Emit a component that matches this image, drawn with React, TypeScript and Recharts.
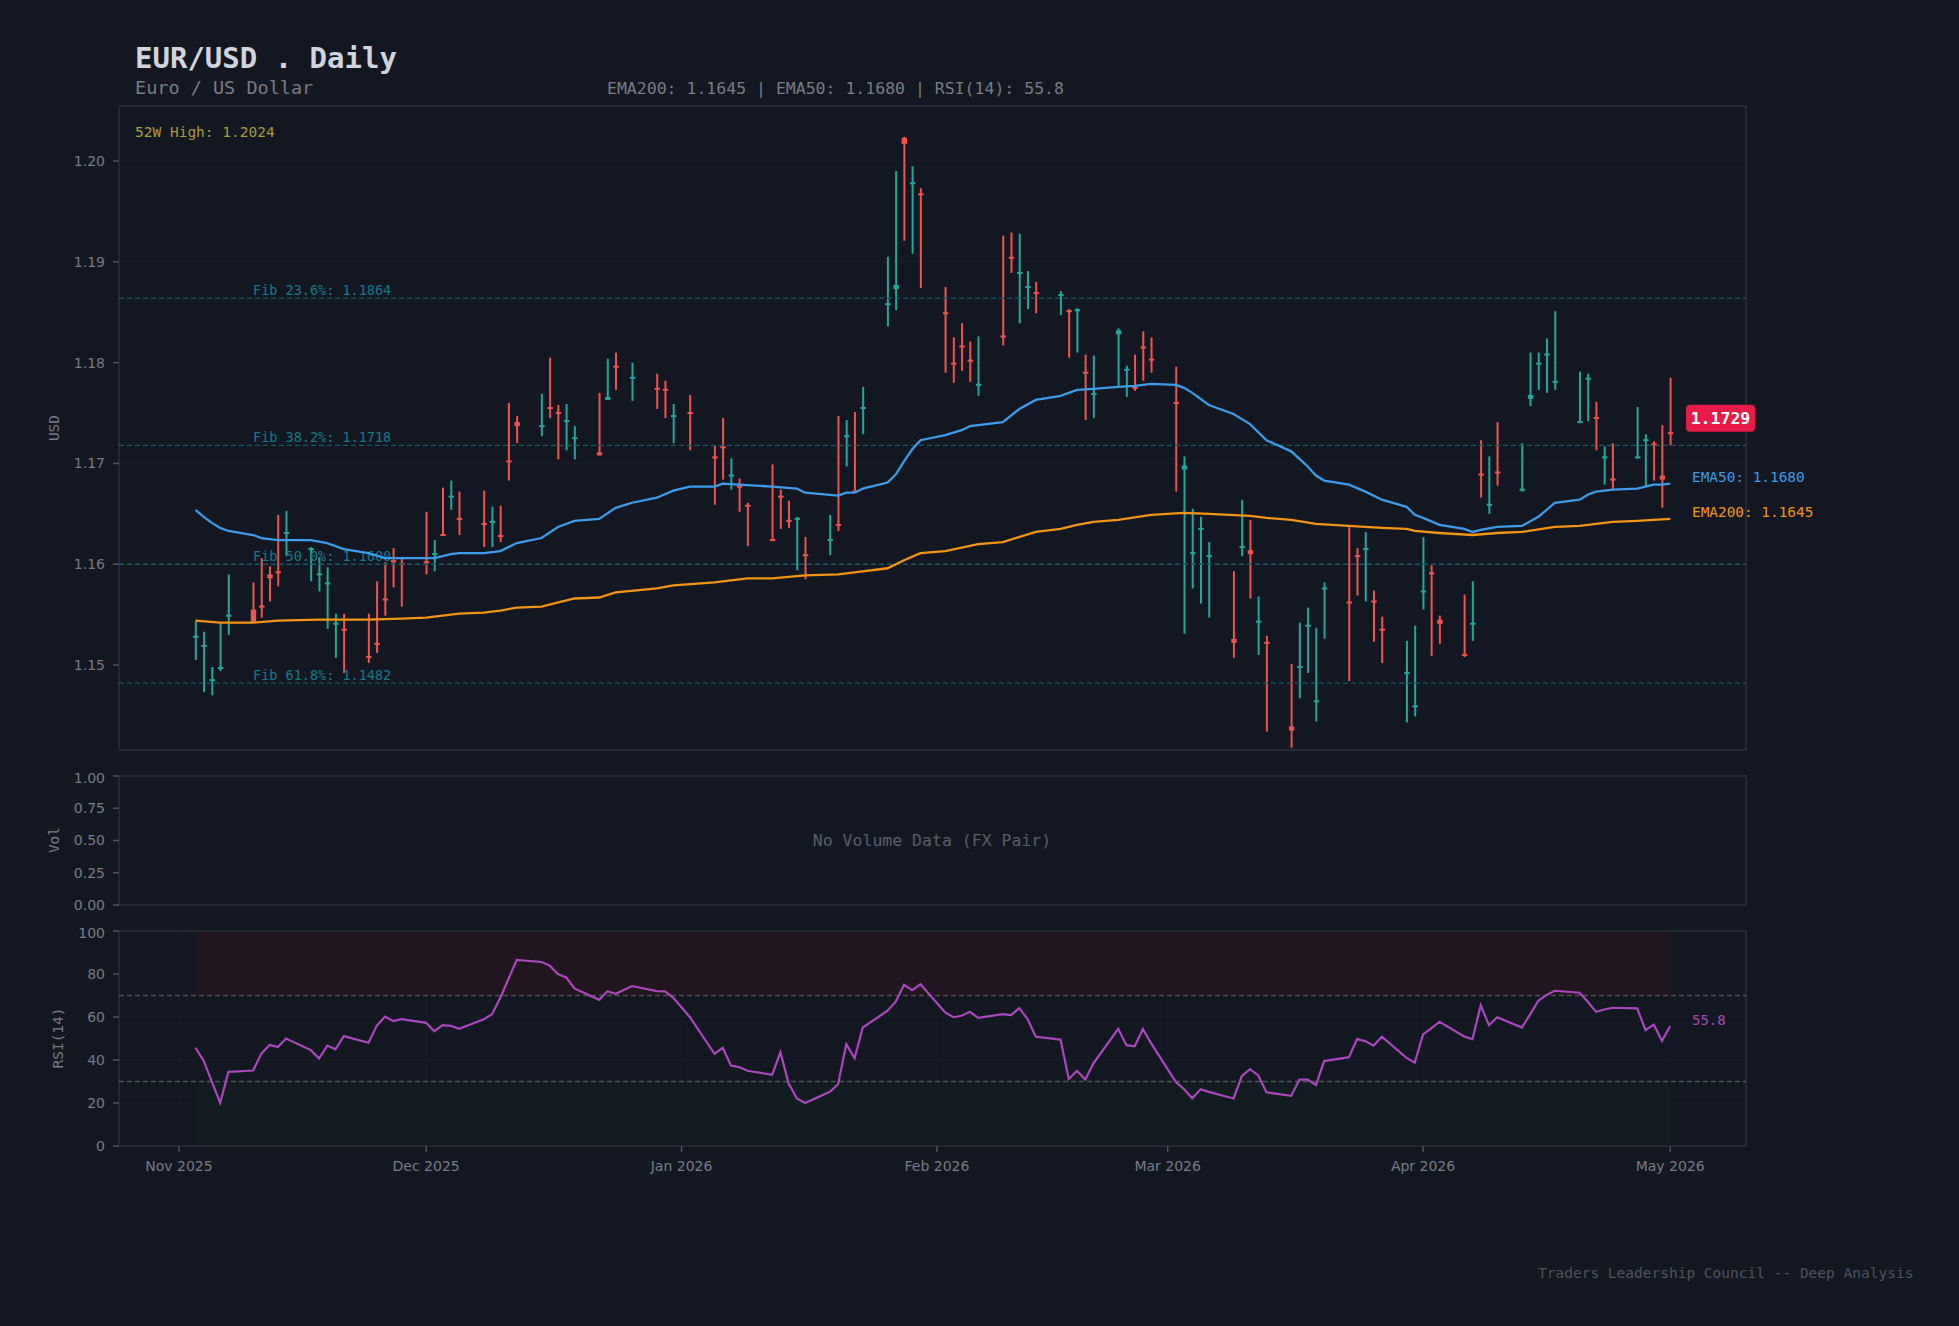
import React from 'react';
import {
  ComposedChart,
  Bar,
  Line,
  XAxis,
  YAxis,
  CartesianGrid,
  ReferenceLine,
  ReferenceArea,
} from 'recharts';

// ---------------- DATA ----------------
const candleDates = [
  '2025-11-03', '2025-11-04', '2025-11-05', '2025-11-06', '2025-11-07',
  '2025-11-10', '2025-11-11', '2025-11-12', '2025-11-13', '2025-11-14',
  '2025-11-17', '2025-11-18', '2025-11-19', '2025-11-20', '2025-11-21',
  '2025-11-24', '2025-11-25', '2025-11-26', '2025-11-27', '2025-11-28',
  '2025-12-01', '2025-12-02', '2025-12-03', '2025-12-04', '2025-12-05',
  '2025-12-08', '2025-12-09', '2025-12-10', '2025-12-11', '2025-12-12',
  '2025-12-15', '2025-12-16', '2025-12-17', '2025-12-18', '2025-12-19',
  '2025-12-22', '2025-12-23', '2025-12-24', '2025-12-26',
  '2025-12-29', '2025-12-30', '2025-12-31', '2026-01-02',
  '2026-01-05', '2026-01-06', '2026-01-07', '2026-01-08', '2026-01-09',
  '2026-01-12', '2026-01-13', '2026-01-14', '2026-01-15', '2026-01-16',
  '2026-01-19', '2026-01-20', '2026-01-21', '2026-01-22', '2026-01-23',
  '2026-01-26', '2026-01-27', '2026-01-28', '2026-01-29', '2026-01-30',
  '2026-02-02', '2026-02-03', '2026-02-04', '2026-02-05', '2026-02-06',
  '2026-02-09', '2026-02-10', '2026-02-11', '2026-02-12', '2026-02-13',
  '2026-02-16', '2026-02-17', '2026-02-18', '2026-02-19', '2026-02-20',
  '2026-02-23', '2026-02-24', '2026-02-25', '2026-02-26', '2026-02-27',
  '2026-03-02', '2026-03-03', '2026-03-04', '2026-03-05', '2026-03-06',
  '2026-03-09', '2026-03-10', '2026-03-11', '2026-03-12', '2026-03-13',
  '2026-03-16', '2026-03-17', '2026-03-18', '2026-03-19', '2026-03-20',
  '2026-03-23', '2026-03-24', '2026-03-25', '2026-03-26', '2026-03-27',
  '2026-03-30', '2026-03-31', '2026-04-01', '2026-04-02', '2026-04-03',
  '2026-04-06', '2026-04-07', '2026-04-08', '2026-04-09', '2026-04-10',
  '2026-04-13', '2026-04-14', '2026-04-15', '2026-04-16', '2026-04-17',
  '2026-04-20', '2026-04-21', '2026-04-22', '2026-04-23', '2026-04-24',
  '2026-04-27', '2026-04-28', '2026-04-29', '2026-04-30', '2026-05-01',
];

const openP = [
  1.1527, 1.1518, 1.1484, 1.1496, 1.1548, 1.1555, 1.1559, 1.1590, 1.1593, 1.1630,
  1.1614, 1.1589, 1.1580, 1.1540, 1.1536, 1.1509, 1.1522, 1.1566, 1.1604, 1.1601,
  1.1603, 1.1609, 1.1630, 1.1666, 1.1646, 1.1641, 1.1641, 1.1629, 1.1703, 1.1741,
  1.1736, 1.1756, 1.1751, 1.1741, 1.1724, 1.1711, 1.1763, 1.1797, 1.1784, 1.1775,
  1.1774, 1.1746, 1.1751, 1.1707, 1.1717, 1.1687, 1.1678, 1.1659, 1.1625, 1.1668,
  1.1644, 1.1644, 1.1610, 1.1623, 1.1640, 1.1726, 1.1673, 1.1754, 1.1857, 1.1873,
  1.2023, 1.1977, 1.1968, 1.1850, 1.1800, 1.1817, 1.1803, 1.1777, 1.1827, 1.1905,
  1.1888, 1.1874, 1.1870, 1.1866, 1.1852, 1.1851, 1.1791, 1.1768, 1.1828, 1.1792,
  1.1776, 1.1816, 1.1804, 1.1761, 1.1694, 1.1610, 1.1634, 1.1607, 1.1526, 1.1616,
  1.1614, 1.1542, 1.1523, 1.1439, 1.1497, 1.1538, 1.1463, 1.1575, 1.1563, 1.1609,
  1.1614, 1.1564, 1.1536, 1.1491, 1.1458, 1.1572, 1.1592, 1.1545, 1.1511, 1.1540,
  1.1690, 1.1658, 1.1692, 1.1673, 1.1764, 1.1798, 1.1807, 1.1780, 1.1740, 1.1783,
  1.1746, 1.1705, 1.1685, 1.1705, 1.1722, 1.1720, 1.1688, 1.1731,
];

const highP = [
  1.1543, 1.1533, 1.1498, 1.1542, 1.1590, 1.1582, 1.1606, 1.1598, 1.1649, 1.1653,
  1.1617, 1.1607, 1.1597, 1.1551, 1.1551, 1.1551, 1.1583, 1.1602, 1.1616, 1.1607,
  1.1652, 1.1624, 1.1676, 1.1683, 1.1672, 1.1673, 1.1657, 1.1658, 1.1760, 1.1747,
  1.1769, 1.1805, 1.1758, 1.1759, 1.1737, 1.1770, 1.1804, 1.1810, 1.1800, 1.1789,
  1.1782, 1.1759, 1.1768, 1.1718, 1.1745, 1.1705, 1.1685, 1.1661, 1.1699, 1.1674,
  1.1663, 1.1647, 1.1627, 1.1649, 1.1747, 1.1743, 1.1751, 1.1776, 1.1905, 1.1990,
  1.2024, 1.1995, 1.1973, 1.1875, 1.1825, 1.1839, 1.1821, 1.1826, 1.1926, 1.1929,
  1.1928, 1.1891, 1.1880, 1.1871, 1.1853, 1.1854, 1.1808, 1.1807, 1.1834, 1.1797,
  1.1808, 1.1831, 1.1825, 1.1796, 1.1707, 1.1655, 1.1647, 1.1622, 1.1593, 1.1664,
  1.1644, 1.1568, 1.1529, 1.1501, 1.1542, 1.1557, 1.1537, 1.1582, 1.1638, 1.1616,
  1.1632, 1.1574, 1.1548, 1.1524, 1.1539, 1.1627, 1.1599, 1.1549, 1.1570, 1.1583,
  1.1723, 1.1707, 1.1741, 1.1720, 1.1810, 1.1810, 1.1824, 1.1851, 1.1791, 1.1789,
  1.1761, 1.1717, 1.1720, 1.1756, 1.1729, 1.1722, 1.1738, 1.1785,
];

const lowP = [
  1.1505, 1.1473, 1.1470, 1.1494, 1.1530, 1.1543, 1.1547, 1.1563, 1.1578, 1.1608,
  1.1583, 1.1573, 1.1536, 1.1507, 1.1492, 1.1502, 1.1512, 1.1549, 1.1577, 1.1558,
  1.1590, 1.1593, 1.1628, 1.1654, 1.1629, 1.1617, 1.1617, 1.1622, 1.1683, 1.1720,
  1.1727, 1.1745, 1.1704, 1.1713, 1.1704, 1.1708, 1.1763, 1.1773, 1.1762, 1.1754,
  1.1745, 1.1720, 1.1713, 1.1659, 1.1684, 1.1674, 1.1652, 1.1618, 1.1623, 1.1635,
  1.1636, 1.1594, 1.1585, 1.1609, 1.1633, 1.1697, 1.1671, 1.1729, 1.1836, 1.1852,
  1.1921, 1.1908, 1.1874, 1.1790, 1.1780, 1.1792, 1.1781, 1.1767, 1.1817, 1.1889,
  1.1839, 1.1853, 1.1849, 1.1847, 1.1805, 1.1810, 1.1743, 1.1745, 1.1775, 1.1766,
  1.1772, 1.1782, 1.1790, 1.1672, 1.1531, 1.1576, 1.1561, 1.1547, 1.1507, 1.1608,
  1.1566, 1.1510, 1.1434, 1.1418, 1.1467, 1.1492, 1.1444, 1.1526, 1.1484, 1.1569,
  1.1563, 1.1523, 1.1502, 1.1443, 1.1449, 1.1555, 1.1509, 1.1521, 1.1508, 1.1524,
  1.1666, 1.1650, 1.1678, 1.1672, 1.1757, 1.1773, 1.1770, 1.1773, 1.1740, 1.1742,
  1.1713, 1.1679, 1.1674, 1.1705, 1.1677, 1.1683, 1.1656, 1.1718,
];

const closeP = [
  1.1529, 1.1520, 1.1486, 1.1498, 1.1550, 1.1543, 1.1557, 1.1586, 1.1591, 1.1632,
  1.1616, 1.1591, 1.1582, 1.1542, 1.1534, 1.1507, 1.1520, 1.1564, 1.1602, 1.1599,
  1.1601, 1.1611, 1.1628, 1.1668, 1.1644, 1.1639, 1.1643, 1.1627, 1.1701, 1.1737,
  1.1738, 1.1754, 1.1749, 1.1743, 1.1726, 1.1708, 1.1766, 1.1795, 1.1786, 1.1773,
  1.1772, 1.1748, 1.1749, 1.1705, 1.1715, 1.1689, 1.1676, 1.1657, 1.1623, 1.1666,
  1.1642, 1.1646, 1.1608, 1.1625, 1.1638, 1.1728, 1.1671, 1.1756, 1.1859, 1.1877,
  1.2017, 1.1979, 1.1966, 1.1848, 1.1798, 1.1815, 1.1801, 1.1779, 1.1825, 1.1903,
  1.1890, 1.1876, 1.1868, 1.1868, 1.1850, 1.1853, 1.1789, 1.1770, 1.1832, 1.1794,
  1.1774, 1.1814, 1.1802, 1.1759, 1.1698, 1.1612, 1.1636, 1.1609, 1.1522, 1.1618,
  1.1610, 1.1544, 1.1521, 1.1435, 1.1499, 1.1540, 1.1465, 1.1577, 1.1561, 1.1607,
  1.1616, 1.1562, 1.1534, 1.1493, 1.1460, 1.1574, 1.1590, 1.1541, 1.1509, 1.1542,
  1.1688, 1.1660, 1.1690, 1.1675, 1.1768, 1.1800, 1.1809, 1.1782, 1.1742, 1.1785,
  1.1744, 1.1707, 1.1683, 1.1707, 1.1724, 1.1718, 1.1684, 1.1729,
];

const rsiValues = [
  45.7, 39.6, 29.8, 20.0, 34.5, 35.1, 43.0, 47.0, 46.0, 50.0,
  44.6, 40.7, 46.7, 45.0, 51.1, 48.0, 55.9, 60.2, 58.1, 59.0,
  57.3, 53.4, 56.2, 55.9, 54.5, 58.9, 61.3, 68.9, 77.8, 86.6,
  85.6, 83.9, 80.0, 78.4, 73.3, 68.0, 72.0, 70.8, 74.4, 72.0,
  71.9, 68.9, 60.0, 42.9, 45.7, 37.4, 36.7, 35.0, 33.1, 43.6,
  29.0, 22.1, 20.0, 25.2, 28.7, 47.4, 40.8, 55.1, 62.9, 67.1,
  75.0, 72.5, 75.2, 62.1, 59.9, 60.6, 62.4, 59.6, 61.3, 60.9,
  64.1, 59.0, 50.8, 49.5, 31.1, 35.0, 30.9, 38.4, 54.5, 46.9,
  46.4, 54.4, 47.7, 29.8, 26.4, 22.2, 26.4, 25.2, 22.1, 32.5,
  35.7, 32.8, 25.0, 23.3, 30.9, 30.9, 28.3, 39.5, 41.3, 49.7,
  48.8, 46.7, 50.8, 41.0, 38.8, 51.9, 54.7, 57.8, 50.9, 49.7,
  65.4, 56.2, 59.9, 55.1, 61.2, 67.6, 70.3, 72.2, 71.3, 67.1,
  62.4, 63.5, 64.3, 64.0, 53.9, 56.5, 48.9, 55.8,
];

const ema50Dates = [
  '2025-11-03', '2025-11-04', '2025-11-05', '2025-11-06', '2025-11-07', '2025-11-10',
  '2025-11-11', '2025-11-13', '2025-11-17', '2025-11-19', '2025-11-21', '2025-11-24',
  '2025-11-26', '2025-11-28', '2025-12-02', '2025-12-04', '2025-12-05', '2025-12-08',
  '2025-12-10', '2025-12-12', '2025-12-15', '2025-12-17', '2025-12-19', '2025-12-22',
  '2025-12-24', '2025-12-26', '2025-12-29', '2025-12-31', '2026-01-02', '2026-01-05',
  '2026-01-06', '2026-01-08', '2026-01-12', '2026-01-15', '2026-01-16', '2026-01-20',
  '2026-01-21', '2026-01-22', '2026-01-23', '2026-01-26', '2026-01-27', '2026-01-28',
  '2026-01-29', '2026-01-30', '2026-02-02', '2026-02-04', '2026-02-05', '2026-02-09',
  '2026-02-11', '2026-02-13', '2026-02-16', '2026-02-18', '2026-02-20', '2026-02-23',
  '2026-02-25', '2026-02-27', '2026-03-02', '2026-03-03', '2026-03-04', '2026-03-06',
  '2026-03-09', '2026-03-11', '2026-03-13', '2026-03-16', '2026-03-18', '2026-03-19',
  '2026-03-20', '2026-03-23', '2026-03-25', '2026-03-27', '2026-03-30', '2026-03-31',
  '2026-04-01', '2026-04-03', '2026-04-06', '2026-04-07', '2026-04-08', '2026-04-10',
  '2026-04-13', '2026-04-15', '2026-04-17', '2026-04-20', '2026-04-21', '2026-04-22',
  '2026-04-24', '2026-04-27', '2026-04-28', '2026-04-29', '2026-04-30', '2026-05-01',
];
const ema50Values = [
  1.1654, 1.1647, 1.1641, 1.1636, 1.1633, 1.1629,
  1.1626, 1.1624, 1.1624, 1.1621, 1.1615, 1.1611,
  1.1606, 1.1606, 1.1606, 1.1610, 1.1611, 1.1611,
  1.1613, 1.1621, 1.1626, 1.1637, 1.1643, 1.1645,
  1.1656, 1.1661, 1.1666, 1.1673, 1.1677, 1.1677,
  1.1680, 1.1679, 1.1677, 1.1675, 1.1671, 1.1668,
  1.1671, 1.1671, 1.1675, 1.1681, 1.1689, 1.1702,
  1.1714, 1.1723, 1.1728, 1.1733, 1.1737, 1.1741,
  1.1754, 1.1763, 1.1767, 1.1773, 1.1774, 1.1776,
  1.1777, 1.1779, 1.1778, 1.1775, 1.1770, 1.1758,
  1.1749, 1.1739, 1.1723, 1.1712, 1.1697, 1.1688,
  1.1683, 1.1679, 1.1672, 1.1664, 1.1657, 1.1649,
  1.1646, 1.1639, 1.1635, 1.1632, 1.1634, 1.1637,
  1.1638, 1.1647, 1.1661, 1.1664, 1.1669, 1.1672,
  1.1674, 1.1675, 1.1677, 1.1679, 1.1679, 1.1680,
];

const ema200Dates = [
  '2025-11-03', '2025-11-06', '2025-11-10', '2025-11-13', '2025-11-18', '2025-11-24',
  '2025-11-28', '2025-12-01', '2025-12-03', '2025-12-05', '2025-12-08', '2025-12-10',
  '2025-12-12', '2025-12-15', '2025-12-19', '2025-12-22', '2025-12-24', '2025-12-29',
  '2025-12-31', '2026-01-05', '2026-01-09', '2026-01-12', '2026-01-16', '2026-01-20',
  '2026-01-22', '2026-01-26', '2026-01-28', '2026-01-30', '2026-02-02', '2026-02-06',
  '2026-02-09', '2026-02-13', '2026-02-16', '2026-02-18', '2026-02-20', '2026-02-23',
  '2026-02-27', '2026-03-03', '2026-03-06', '2026-03-11', '2026-03-13', '2026-03-16',
  '2026-03-19', '2026-03-23', '2026-03-27', '2026-03-30', '2026-03-31', '2026-04-03',
  '2026-04-07', '2026-04-10', '2026-04-13', '2026-04-17', '2026-04-20', '2026-04-24',
  '2026-04-27', '2026-05-01',
];
const ema200Values = [
  1.1544, 1.1542, 1.1542, 1.1544, 1.1545, 1.1545,
  1.1546, 1.1547, 1.1549, 1.1551, 1.1552, 1.1554,
  1.1557, 1.1558, 1.1566, 1.1567, 1.1572, 1.1576,
  1.1579, 1.1582, 1.1586, 1.1586, 1.1589, 1.1590,
  1.1592, 1.1596, 1.1604, 1.1611, 1.1613, 1.1620,
  1.1622, 1.1632, 1.1635, 1.1639, 1.1642, 1.1644,
  1.1649, 1.1651, 1.1650, 1.1648, 1.1646, 1.1644,
  1.1640, 1.1638, 1.1636, 1.1635, 1.1633, 1.1631,
  1.1629, 1.1631, 1.1632, 1.1637, 1.1638, 1.1642,
  1.1643, 1.1645,
];

const fibLevels = [1.1864, 1.1718, 1.16, 1.1482];
const fibNames = ['23.6%', '38.2%', '50.0%', '61.8%'];
const yearHigh = 1.2024;

const tickDates = ['2025-11-01', '2025-12-01', '2026-01-01', '2026-02-01', '2026-03-01', '2026-04-01', '2026-05-01'];
const tickLabels = ['Nov 2025', 'Dec 2025', 'Jan 2026', 'Feb 2026', 'Mar 2026', 'Apr 2026', 'May 2026'];
const priceTicks = [1.15, 1.16, 1.17, 1.18, 1.19, 1.2];
const volTicks = [0, 0.25, 0.5, 0.75, 1];
const rsiTicks = [0, 20, 40, 60, 80, 100];

// ---------------- STYLE ----------------
const BG = '#131722';
const BORDER = '#2a2e39';
const TEXT = '#787b86';
const TICK = '#50545f';
const GRID = '#181c27';
const UP = '#26a69a';
const DOWN = '#ef5350';
const BLUE = '#3d9be9';
const ORANGE = '#f39412';
const PURPLE = '#ab47bc';
const FIB = '#0e5c6c';
const FIB_TEXT = '#13798b';
const BADGE = '#e81a47';
const MONO = '"DejaVu Sans Mono", monospace';
const SANS = '"DejaVu Sans", sans-serif';

const EPOCH = Date.parse('2025-11-01T00:00:00Z');
const toDay = (s: string) => (Date.parse(s + 'T00:00:00Z') - EPOCH) / 86400000;

const X_DOMAIN: [number, number] = [-7.28, 190.2];
const Y_DOMAIN: [number, number] = [1.14157, 1.20546];

const tickDays = tickDates.map(toDay);
const tickText = (v: number) => {
  const i = tickDays.indexOf(v);
  return i >= 0 ? tickLabels[i] : '';
};

const candles = candleDates.map((d, i) => ({
  x: toDay(d),
  open: openP[i],
  high: highP[i],
  low: lowP[i],
  close: closeP[i],
}));
const rsiData = candleDates.map((d, i) => ({ x: toDay(d), rsi: rsiValues[i] }));
const ema50Data = ema50Dates.map((d, i) => ({ x: toDay(d), v: ema50Values[i] }));
const ema200Data = ema200Dates.map((d, i) => ({ x: toDay(d), v: ema200Values[i] }));
const volData = candleDates.map((d) => ({ x: toDay(d), vol: null as number | null }));

const lastClose = closeP[closeP.length - 1];
const lastEma50 = ema50Values[ema50Values.length - 1];
const lastEma200 = ema200Values[ema200Values.length - 1];
const lastRsi = rsiValues[rsiValues.length - 1];
const firstDay = toDay(candleDates[0]);
const lastDay = toDay(candleDates[candleDates.length - 1]);

// ---------------- SHAPES ----------------
const Candle = (props: any) => {
  const { x, width, payload } = props;
  let { y, height } = props;
  if (height < 0) {
    y = y + height;
    height = -height;
  }
  const { open, close, high, low } = payload;
  const cx = x + width / 2;
  const color = close >= open ? UP : DOWN;
  const k = height / (high - low);
  const top = y + (high - Math.max(open, close)) * k;
  const bot = y + (high - Math.min(open, close)) * k;
  const bh = Math.max(bot - top, 1.8);
  return (
    <g>
      <line x1={cx} x2={cx} y1={y} y2={y + height} stroke={color} strokeWidth={2} />
      <rect x={cx - 2.7} y={top} width={5.4} height={bh} fill={color} />
    </g>
  );
};

const FibLabel = (props: any) => {
  const vb = props.viewBox || { x: 0, y: 0 };
  return (
    <text x={vb.x + 134} y={vb.y - 3} fill={FIB_TEXT} fontSize={13.5} fontFamily={MONO}>
      {props.text}
    </text>
  );
};

const Badge = (props: any) => {
  const vb = props.viewBox || { x: 0, y: 0, width: 0 };
  const right = vb.x + vb.width;
  const cy = vb.y - 16;
  return (
    <g>
      <rect x={right - 60} y={cy - 13.5} width={69} height={27} rx={4} ry={4} fill={BADGE} />
      <text
        x={right - 25.5}
        y={cy + 6}
        textAnchor="middle"
        fill="#ffffff"
        fontWeight="bold"
        fontSize={16.5}
        fontFamily={MONO}
      >
        {props.text}
      </text>
    </g>
  );
};

const SideLabel = (props: any) => {
  const vb = props.viewBox || { x: 0, y: 0, width: 0 };
  const right = vb.x + vb.width;
  return (
    <text x={right - 54} y={vb.y - 1.5} fill={props.color} fontSize={props.size || 14.4} fontFamily={MONO}>
      {props.text}
    </text>
  );
};

const yTick = { fill: TEXT, fontSize: 14, fontFamily: SANS };

const PlotBorder = ({ y }: { y: [number, number] }) => (
  <ReferenceArea
    x1={X_DOMAIN[0]}
    x2={X_DOMAIN[1]}
    y1={y[0]}
    y2={y[1]}
    fill="none"
    fillOpacity={0}
    stroke={BORDER}
    strokeWidth={1.6}
    ifOverflow="visible"
  />
);

export default function App() {
  return (
    <div
      style={{
        position: 'absolute',
        left: 0,
        top: 0,
        width: 1959,
        height: 1326,
        background: BG,
        overflow: 'hidden',
      }}
    >
      {/* MAIN PRICE PANEL */}
      <div style={{ position: 'absolute', left: 0, top: 0 }}>
        <ComposedChart width={1959} height={770} data={candles} margin={{ top: 106, right: 213, bottom: 0, left: 59 }}>
          <CartesianGrid stroke={GRID} strokeWidth={1} />
          <XAxis
            type="number"
            dataKey="x"
            domain={X_DOMAIN}
            ticks={tickDays}
            allowDataOverflow
            height={20}
            tickSize={6}
            axisLine={false}
            tickLine={{ stroke: TICK, strokeWidth: 1.5 }}
            tick={false}
          />
          <YAxis
            type="number"
            domain={Y_DOMAIN}
            ticks={priceTicks}
            allowDataOverflow
            width={60}
            tickSize={6}
            tickMargin={8}
            axisLine={false}
            tickLine={{ stroke: TICK, strokeWidth: 1.5 }}
            tick={yTick}
            tickFormatter={(v: number) => v.toFixed(2)}
          />
          {fibLevels.map((lv, i) => (
            <ReferenceLine
              key={'fib' + i}
              y={lv}
              stroke={FIB}
              strokeWidth={1.3}
              strokeDasharray="5 3"
              label={<FibLabel text={`Fib ${fibNames[i]}: ${lv.toFixed(4)}`} />}
            />
          ))}
          <Line
            data={ema200Data}
            dataKey="v"
            type="linear"
            stroke={ORANGE}
            strokeWidth={2.3}
            dot={false}
            activeDot={false}
            isAnimationActive={false}
          />
          <Line
            data={ema50Data}
            dataKey="v"
            type="linear"
            stroke={BLUE}
            strokeWidth={2.3}
            dot={false}
            activeDot={false}
            isAnimationActive={false}
          />
          <Bar
            dataKey={(d: any) => [d.low, d.high]}
            barSize={5}
            isAnimationActive={false}
            shape={(p: any) => <Candle {...p} />}
          />
          <ReferenceLine y={lastClose} stroke="none" label={<Badge text={lastClose.toFixed(4)} />} />
          <ReferenceLine
            y={lastEma50}
            stroke="none"
            label={<SideLabel text={`EMA50: ${lastEma50.toFixed(4)}`} color={BLUE} />}
          />
          <ReferenceLine
            y={lastEma200}
            stroke="none"
            label={<SideLabel text={`EMA200: ${lastEma200.toFixed(4)}`} color={ORANGE} />}
          />
          <PlotBorder y={Y_DOMAIN} />
        </ComposedChart>
      </div>

      {/* VOLUME PANEL */}
      <div style={{ position: 'absolute', left: 0, top: 770 }}>
        <ComposedChart width={1959} height={155} data={volData} margin={{ top: 6, right: 213, bottom: 0, left: 59 }}>
          <XAxis
            type="number"
            dataKey="x"
            domain={X_DOMAIN}
            ticks={tickDays}
            allowDataOverflow
            height={20}
            tickSize={6}
            axisLine={false}
            tickLine={{ stroke: TICK, strokeWidth: 1.5 }}
            tick={false}
          />
          <YAxis
            type="number"
            domain={[0, 1]}
            ticks={volTicks}
            allowDataOverflow
            width={60}
            tickSize={6}
            tickMargin={8}
            axisLine={false}
            tickLine={{ stroke: TICK, strokeWidth: 1.5 }}
            tick={yTick}
            tickFormatter={(v: number) => v.toFixed(2)}
          />
          <Line dataKey="vol" stroke="none" dot={false} activeDot={false} isAnimationActive={false} />
          <PlotBorder y={[0, 1]} />
        </ComposedChart>
      </div>

      {/* RSI PANEL */}
      <div style={{ position: 'absolute', left: 0, top: 925 }}>
        <ComposedChart width={1959} height={261} data={rsiData} margin={{ top: 6, right: 213, bottom: 0, left: 59 }}>
          <ReferenceArea x1={firstDay} x2={lastDay} y1={70} y2={100} fill="#21151f" fillOpacity={1} stroke="none" />
          <ReferenceArea x1={firstDay} x2={lastDay} y1={0} y2={30} fill="#121b1f" fillOpacity={1} stroke="none" />
          <CartesianGrid stroke={GRID} strokeWidth={1} />
          <XAxis
            type="number"
            dataKey="x"
            domain={X_DOMAIN}
            ticks={tickDays}
            allowDataOverflow
            height={40}
            tickSize={6}
            tickMargin={9}
            axisLine={false}
            tickLine={{ stroke: TICK, strokeWidth: 1.5 }}
            tick={{ fill: TEXT, fontSize: 14, fontFamily: SANS }}
            tickFormatter={tickText}
          />
          <YAxis
            type="number"
            domain={[0, 100]}
            ticks={rsiTicks}
            allowDataOverflow
            width={60}
            tickSize={6}
            tickMargin={8}
            axisLine={false}
            tickLine={{ stroke: TICK, strokeWidth: 1.5 }}
            tick={yTick}
          />
          <ReferenceLine y={70} stroke="#5a4c57" strokeWidth={1.3} strokeDasharray="5 3" />
          <ReferenceLine y={30} stroke="#4a5a55" strokeWidth={1.3} strokeDasharray="5 3" />
          <Line
            dataKey="rsi"
            type="linear"
            stroke={PURPLE}
            strokeWidth={2.2}
            dot={false}
            activeDot={false}
            isAnimationActive={false}
          />
          <ReferenceLine
            y={lastRsi}
            stroke="none"
            label={<SideLabel text={lastRsi.toFixed(1)} color={PURPLE} size={14} />}
          />
          <PlotBorder y={[0, 100]} />
        </ComposedChart>
      </div>

      {/* STATIC TEXT OVERLAY */}
      <svg
        width={1959}
        height={1326}
        style={{ position: 'absolute', left: 0, top: 0, pointerEvents: 'none' }}
      >
        <text x={135} y={68} fill="#d1d4dc" fontSize={29} fontWeight="bold" fontFamily={MONO}>
          EUR/USD . Daily
        </text>
        <text x={135} y={94} fill={TEXT} fontSize={18.5} fontFamily={MONO}>
          Euro / US Dollar
        </text>
        <text x={607} y={94} fill={TEXT} fontSize={16.5} fontFamily={MONO}>
          {`EMA200: ${lastEma200.toFixed(4)} | EMA50: ${lastEma50.toFixed(4)} | RSI(14): ${lastRsi.toFixed(1)}`}
        </text>
        <text x={135} y={137} fill="#a89b3a" fontSize={14.5} fontFamily={MONO}>
          {`52W High: ${yearHigh.toFixed(4)}`}
        </text>
        <text
          x={54}
          y={428}
          fill={TEXT}
          fontSize={14.5}
          fontFamily={MONO}
          textAnchor="middle"
          dominantBaseline="central"
          transform="rotate(-90 54 428)"
        >
          USD
        </text>
        <text
          x={54}
          y={840}
          fill={TEXT}
          fontSize={14.5}
          fontFamily={MONO}
          textAnchor="middle"
          dominantBaseline="central"
          transform="rotate(-90 54 840)"
        >
          Vol
        </text>
        <text
          x={58}
          y={1038}
          fill={TEXT}
          fontSize={14.5}
          fontFamily={MONO}
          textAnchor="middle"
          dominantBaseline="central"
          transform="rotate(-90 58 1038)"
        >
          RSI(14)
        </text>
        <text
          x={932}
          y={840}
          fill="#5a5e6a"
          fontSize={16.5}
          fontFamily={MONO}
          textAnchor="middle"
          dominantBaseline="central"
        >
          No Volume Data (FX Pair)
        </text>
        <text x={1538} y={1278} fill="#50535e" fontSize={14.5} fontFamily={MONO}>
          Traders Leadership Council -- Deep Analysis
        </text>
      </svg>
    </div>
  );
}
